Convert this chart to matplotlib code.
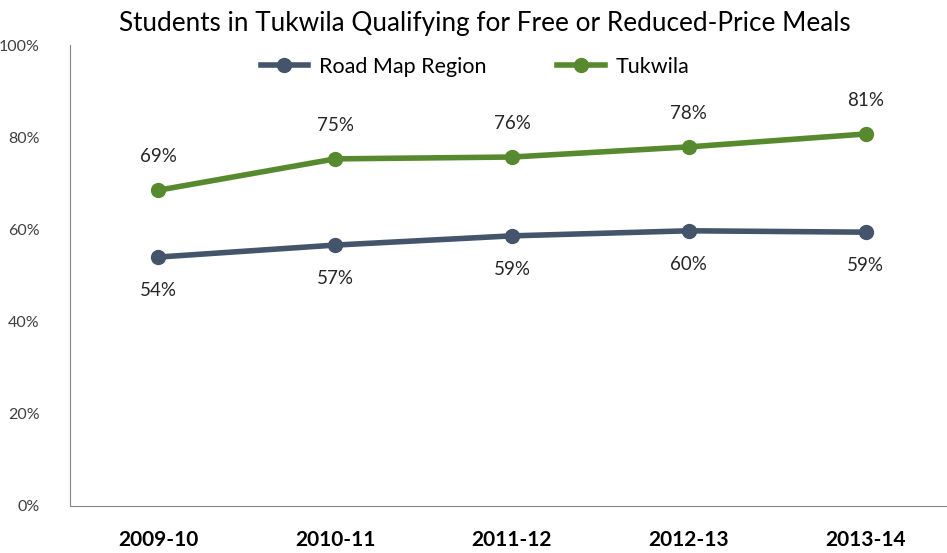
import matplotlib.pyplot as plt
from matplotlib.ticker import PercentFormatter

# data
years = ["2009-10", "2010-11", "2011-12", "2012-13", "2013-14"]
road_map = [54.0, 56.6, 58.6, 59.7, 59.4]
tukwila = [68.5, 75.3, 75.7, 77.9, 80.7]
road_labels = ["54%", "57%", "59%", "60%", "59%"]
tukwila_labels = ["69%", "75%", "76%", "78%", "81%"]

plt.rcParams["font.family"] = ["Lato", "DejaVu Sans"]

blue = "#44546A"
green = "#578A2E"

fig = plt.figure(figsize=(9.47, 5.53), dpi=100)
ax = fig.add_axes([0.0739, 0.085, 0.9335, 0.8336])

x = range(len(years))
ax.plot(x, road_map, color=blue, lw=4, marker="o", ms=10, label="Road Map Region")
ax.plot(x, tukwila, color=green, lw=4, marker="o", ms=10, label="Tukwila")

for i in x:
    ax.annotate(tukwila_labels[i], (i, tukwila[i]), xytext=(0, 18), textcoords="offset points",
                ha="center", va="bottom", fontsize=13.5, color="#262626")
    ax.annotate(road_labels[i], (i, road_map[i]), xytext=(0, -18), textcoords="offset points",
                ha="center", va="top", fontsize=13.5, color="#262626")

ax.set_xlim(-0.5, 4.5)
ax.set_ylim(0, 100)
ax.set_yticks(range(0, 101, 20))
ax.yaxis.set_major_formatter(PercentFormatter(decimals=0))
ax.set_xticks(list(x))
ax.set_xticklabels(years, fontsize=15, fontweight="bold")
ax.tick_params(axis="y", length=0, pad=22, labelsize=11.5, labelcolor="#404040")
ax.tick_params(axis="x", length=0, pad=17)

for s in ["top", "right"]:
    ax.spines[s].set_visible(False)
ax.spines["left"].set_color("#868686")
ax.spines["bottom"].set_color("#868686")

fig.text(0.512, 0.958, "Students in Tukwila Qualifying for Free or Reduced-Price Meals",
         ha="center", va="center", fontsize=18.8, color="black")

ax.legend(loc="upper center", bbox_to_anchor=(0.458, 1.016), ncol=2, frameon=False,
          fontsize=15.5, handlelength=2.2, columnspacing=3.3, handletextpad=0.5)

fig.savefig("out.png", dpi=100)
